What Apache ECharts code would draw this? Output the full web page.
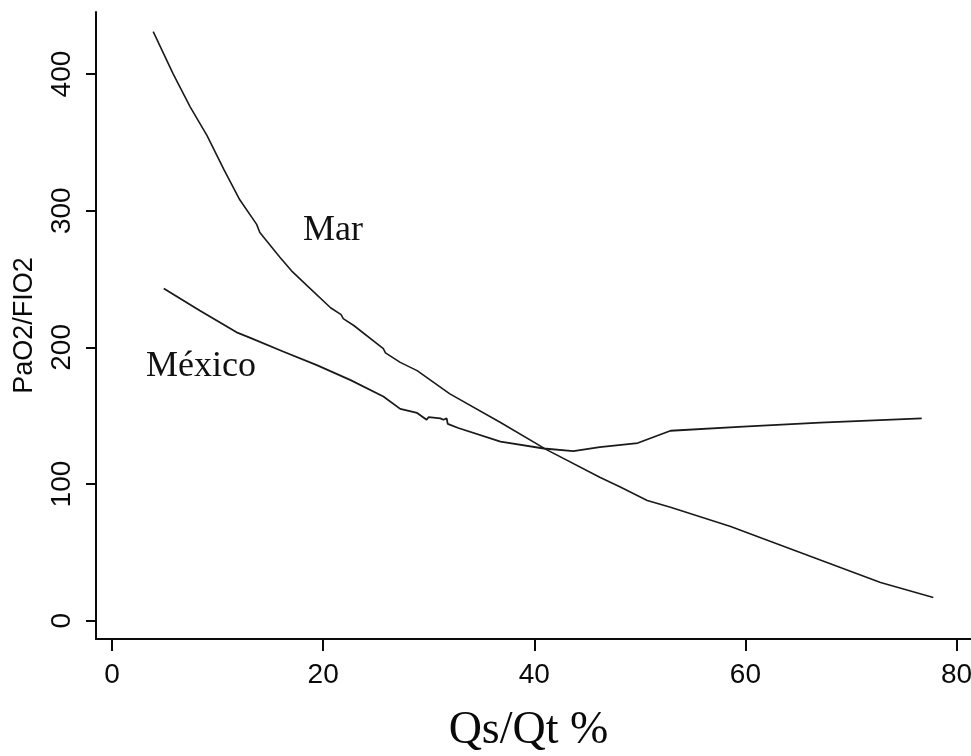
<!DOCTYPE html>
<html>
<head>
<meta charset="utf-8">
<script src="https://cdn.jsdelivr.net/npm/echarts@6/dist/echarts.min.js"></script>
<style>
html,body{margin:0;padding:0;background:#fff;}
#c{width:971px;height:756px;}
</style>
</head>
<body>
<div id="c"></div>
<script>
var xTicks = [0, 20, 40, 60, 80];
var yTicks = [0, 100, 200, 300, 400];

var marX = [3.9, 5.8, 7.4, 9.0, 10.6, 12.1, 13.7, 14.0, 15.9, 17.0, 18.5, 20.7, 21.7, 21.9, 22.9, 25.7, 25.9, 27.3, 28.9, 32.0, 36.8, 41.2, 46.2, 48.1, 50.7, 52.9, 58.6, 61.7, 72.8, 77.8];
var marY = [431, 400, 376, 355, 330, 308, 290, 284, 266, 256, 245, 229, 224, 221, 216, 199, 196, 189, 183, 166, 145, 125, 105, 98, 88, 83, 69, 60, 28, 17];

var mexX = [4.9, 8.3, 11.8, 13.1, 16.2, 19.4, 22.6, 25.7, 27.3, 28.9, 29.8, 30.0, 31.1, 31.4, 31.7, 31.8, 32.8, 36.8, 40.9, 43.7, 46.2, 49.8, 52.9, 59.8, 67.1, 76.7];
var mexY = [243, 227, 211, 207, 197, 187, 176, 164, 155, 152, 147, 149, 148, 147, 148, 144, 141, 131, 126, 124, 127, 130, 139, 142, 145, 148];

function pairs(xs, ys){ return xs.map(function(v,i){ return [v, ys[i]]; }); }

var chart = echarts.init(document.getElementById('c'), null, {renderer:'canvas'});
var axisColor = '#0a0a0a';
chart.setOption({
  animation: false,
  backgroundColor: '#fff',
  grid: {left: 96, right: 0, top: 12, bottom: 117, containLabel: false, outerBoundsMode: 'none'},
  xAxis: {
    type: 'value', min: -1.52, max: 81.37,
    name: 'Qs/Qt %', nameLocation: 'middle', nameGap: 69,
    nameTextStyle: {fontFamily: 'Liberation Serif', fontSize: 46, color: axisColor, padding: [0, 10, 0, 0]},
    axisLine: {show: true, onZero: false, lineStyle: {color: axisColor, width: 2}},
    axisTick: {show: true, inside: false, length: 12, customValues: xTicks, lineStyle: {color: axisColor, width: 2}},
    axisLabel: {customValues: xTicks, margin: 22, fontFamily: 'Liberation Sans', fontSize: 28, color: axisColor},
    splitLine: {show: false}
  },
  yAxis: {
    type: 'value', min: -13.4, max: 445.4,
    name: 'PaO2/FIO2', nameLocation: 'middle', nameGap: 58, nameRotate: 90,
    nameTextStyle: {fontFamily: 'Liberation Sans', fontSize: 27, color: axisColor},
    axisLine: {show: true, onZero: false, lineStyle: {color: axisColor, width: 2}},
    axisTick: {show: true, inside: false, length: 10, customValues: yTicks, lineStyle: {color: axisColor, width: 2}},
    axisLabel: {customValues: yTicks, rotate: 90, margin: 20, fontFamily: 'Liberation Sans', fontSize: 28, color: axisColor},
    splitLine: {show: false}
  },
  series: [
    {name: 'Mar', type: 'line', data: pairs(marX, marY), showSymbol: false, smooth: false,
     lineStyle: {color: '#1a1a1a', width: 1.6}},
    {name: 'México', type: 'line', data: pairs(mexX, mexY), showSymbol: false, smooth: false,
     lineStyle: {color: '#1a1a1a', width: 1.8}}
  ],
  graphic: [
    {type: 'text', left: 303, top: 213, style: {text: 'Mar', font: '36px "Liberation Serif"', fill: '#111'}},
    {type: 'text', left: 146, top: 349, style: {text: 'México', font: '36px "Liberation Serif"', fill: '#111'}}
  ]
});
</script>
</body>
</html>
